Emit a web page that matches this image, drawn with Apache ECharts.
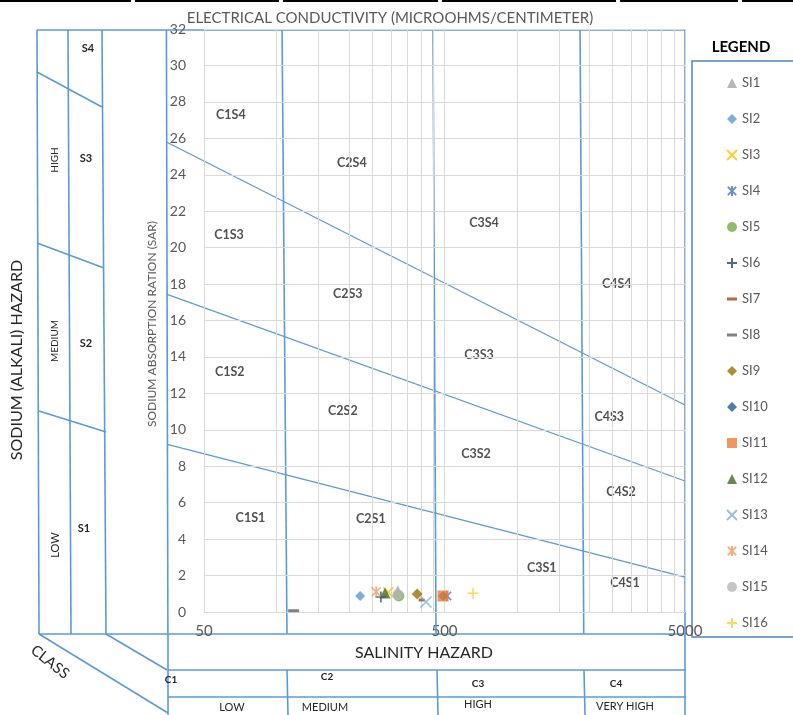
<!DOCTYPE html>
<html>
<head>
<meta charset="utf-8">
<script src="https://cdn.jsdelivr.net/npm/echarts@6/dist/echarts.min.js"></script>
<style>
html,body{margin:0;padding:0;background:#fff;}
#chart{width:793px;height:715px;}
</style>
</head>
<body>
<div id="chart"></div>
<script>
// ---- data ----
const seriesNames = ['SI1','SI2','SI3','SI4','SI5','SI6','SI7','SI8','SI9','SI10','SI11','SI12','SI13','SI14','SI15','SI16'];
const ecValues  = [320, 223, 292, 512, 323, 272, 402, 118, 385, 493, 493, 283, 419, 260, 320, 657];
const sarValues = [1.17, 0.88, 1.08, 0.88, 0.88, 0.82, 0.66, 0.07, 0.99, 0.88, 0.88, 1.04, 0.55, 1.11, 0.95, 1.03];
const seriesColors = ['#A5A5A5','#5B9BD5','#FFC000','#4472C4','#70AD47','#264478','#9E480E','#636363','#997300','#255E91','#ED7D31','#43682B','#7CAFDD','#F1975A','#B7B7B7','#FFCD33'];

const zoneNames = ['C1S4','C2S4','C3S4','C4S4','C1S3','C2S3','C3S3','C4S3','C1S2','C2S2','C3S2','C4S2','C1S1','C2S1','C3S1','C4S1'];
const zoneEC    = [64.7, 206, 730, 2600, 63.5, 198, 696, 2420, 64, 189, 676, 2710, 78, 247, 1268, 2815];
const zoneSAR   = [27.28, 24.63, 21.35, 18.0, 20.69, 17.45, 14.1, 10.72, 13.16, 11.05, 8.67, 6.57, 5.14, 5.09, 2.43, 1.61];

const xTickLabels = [50, 500, 5000];
const ecGridValues = [50,100,150,200,250,300,350,400,450,500,1000,1500,2000,2500,3000,3500,4000,4500,5000];
const sarGridValues = [0,2,4,6,8,10,12,14,16,18,20,22,24,26,28,30,32];
const ecAxisMin = 34.76, ecAxisMax = 5000, ecPlotMin = 50;
const yMin = 0, yMax = 32, yInterval = 2;

// class boundary lines (EC at top / bottom of frame) and SAR hazard lines
const classBoundTop    = [34.9, 105.6, 448, 1831, 5000];
const classBoundBottom = [35.4, 110.7, 461, 1897, 5000];
const frameSarTop = 31.94, frameSarBottom = -1.2;
const sarLineStartEC = [34.9, 34.9, 35.2];
const sarLineStart = [25.8, 17.45, 9.2];
const sarLineEnd   = [11.36, 7.19, 1.92];

// ---- styles ----
const BLUE = '#5B9BD5';
const FONT = 'Lato, "Open Sans", sans-serif';
const P_X = 'path://M0,0L10,10M10,0L0,10';
const P_AST = 'path://M0,0L10,10M10,0L0,10M5,-1L5,11';
const P_PLUS = 'path://M5,0L5,10M0,5L10,5';
const P_DASH = 'path://M0,0H10V3H0Z';
const seriesSymbols = ['triangle','diamond',P_X,P_AST,'circle',P_PLUS,'rect','rect','diamond','diamond','rect','triangle',P_X,P_AST,'circle',P_PLUS];
const legendIcons = {6:P_DASH, 7:P_DASH};
const strokeOnly = {2:1,3:1,5:1,12:1,13:1,15:1};
const symbolSizes = [11,10,10,10,11,11,[6,3],[11,3],11,10,11,11,11,11,11,11];

const chart = echarts.init(document.getElementById('chart'), null, {renderer:'canvas'});

const series = [];
// grid lines
series.push({
  type:'line', name:'_grid', data:[], silent:true, z:1,
  markLine:{ silent:true, symbol:'none', animation:false,
    label:{show:false},
    lineStyle:{color:'#D9D9D9', type:'solid', width:1},
    data: ecGridValues.map(v => [{coord:[v, yMin]},{coord:[v, yMax]}])
      .concat(sarGridValues.map(v => [{coord:[ecPlotMin, v]},{coord:[ecAxisMax, v]}]))
  }
});
// class boundaries
classBoundTop.forEach((t,i) => {
  series.push({type:'line', name:'_cb'+i, data:[[t, frameSarTop],[classBoundBottom[i], frameSarBottom]],
    symbol:'none', clip:false, silent:true, z:3, animation:false,
    lineStyle:{color:BLUE, width:1.6}});
});
// SAR hazard lines
sarLineStart.forEach((s,i) => {
  series.push({type:'line', name:'_sl'+i, data:[[sarLineStartEC[i], s],[ecAxisMax, sarLineEnd[i]]],
    symbol:'none', clip:false, silent:true, z:3, animation:false,
    lineStyle:{color:BLUE, width:1.3}});
});
// zone labels
series.push({
  type:'scatter', name:'_zones', silent:true, z:4, symbolSize:1,
  itemStyle:{color:'transparent'},
  data: zoneNames.map((n,i) => ({name:n, value:[zoneEC[i], zoneSAR[i]]})),
  label:{show:true, position:'inside', formatter: p => p.name,
    fontFamily:FONT, fontSize:12.5, fontWeight:'bold', color:'#262626'}
});
// sample series
seriesNames.forEach((n,i) => {
  const c = seriesColors[i];
  const so = strokeOnly[i];
  series.push({
    type:'scatter', name:n, z:10, animation:false,
    symbol: seriesSymbols[i], symbolSize: symbolSizes[i], symbolKeepAspect:true,
    itemStyle: so ? {color:c, borderColor:c, borderWidth:1.6} : {color:c},
    data: [[ecValues[i], sarValues[i]]]
  });
});

function L(x1,y1,x2,y2,w,c){return {type:'line', silent:true, shape:{x1,y1,x2,y2}, style:{stroke:c||BLUE, lineWidth:w||1.6}};}
function T(text,x,y,font,fill,rot){return {type:'text', silent:true, x, y, rotation:rot||0,
  style:{text, x:0, y:0, font, fill:fill||'#262626', textAlign:'center', textVerticalAlign:'middle'}};}

const graphics = [
  // top black border remnants
  L(0,1,131,1,2,'#000'), L(135,1,279,1,2,'#000'), L(283,1,438,1,2,'#000'), L(442,1,616,1,2,'#000'), L(620,1,738,1,2,'#000'), L(742,1,793,1,2,'#000'),
  // frame top & bottom
  L(37,30,686,30), L(39,634,686,634),
  // left panel verticals
  L(37,30,39,634), L(68,30,71,634), L(102,30,106,634),
  // left panel diagonals
  L(37,72,102,107), L(37,243,104,268), L(39,411,106,432),
  // class diagonals
  L(39,634,168,713), L(106,634,167,670),
  // left/right continuation
  L(168,634,168,715), L(685,634,685,715),
  // bottom table
  L(168,670,686,670), L(168,697,686,697),
  L(287,670,288,715), L(437,670,438,715), L(584,670,585,715),
  // legend box
  {type:'rect', silent:true, shape:{x:692,y:61,width:130,height:576}, style:{fill:'none', stroke:'#4F81BD', lineWidth:1.5}},
  // texts
  T('ELECTRICAL CONDUCTIVITY (MICROOHMS/CENTIMETER)', 390, 18, '15px '+FONT, '#595959'),
  T('SALINITY HAZARD', 424, 653, '16px '+FONT, '#262626'),
  T('SODIUM (ALKALI) HAZARD', 17, 360, '16px '+FONT, '#262626', Math.PI/2),
  T('SODIUM ABSORPTION RATION (SAR)', 152, 324, '12px '+FONT, '#595959', Math.PI/2),
  T('HIGH', 55, 160, '10px '+FONT, '#262626', Math.PI/2),
  T('MEDIUM', 55, 341, '10px '+FONT, '#262626', Math.PI/2),
  T('LOW', 55, 545, '11px '+FONT, '#262626', Math.PI/2),
  T('S4', 88, 48, 'bold 11px '+FONT), T('S3', 86, 158, 'bold 11px '+FONT),
  T('S2', 86, 343, 'bold 11px '+FONT), T('S1', 84, 528, 'bold 11px '+FONT),
  T('CLASS', 50, 662, '15px '+FONT, '#262626', -0.67),
  T('C1', 171, 680, 'bold 10px '+FONT), T('C2', 327, 677, 'bold 10px '+FONT),
  T('C3', 478, 684, 'bold 10px '+FONT), T('C4', 616, 684, 'bold 10px '+FONT),
  T('LOW', 232, 707, '11px '+FONT), T('MEDIUM', 325, 707, '11px '+FONT),
  T('HIGH', 478, 704, '11px '+FONT), T('VERY HIGH', 625, 706, '11px '+FONT),
  T('LEGEND', 741, 47, 'bold 15px '+FONT, '#000')
];

chart.setOption({
  animation:false,
  backgroundColor:'#fff',
  grid:{left:166, right:108, top:29, bottom:103, containLabel:false},
  xAxis:{type:'log', logBase:10, min:ecAxisMin, max:ecAxisMax,
    axisLine:{show:false}, axisTick:{show:false}, splitLine:{show:false}, minorSplitLine:{show:false},
    axisLabel:{customValues:xTickLabels, formatter: v => String(Math.round(v)), fontSize:15, color:'#595959', fontFamily:FONT, margin:12}
  },
  yAxis:{type:'value', min:yMin, max:yMax, interval:yInterval,
    axisLine:{show:false}, axisTick:{show:false},
    splitLine:{show:false},
    axisLabel:{inside:true, align:'right', fontSize:14, color:'#595959', fontFamily:FONT, margin:20}
  },
  legend:{data:seriesNames.map((n,i) => legendIcons[i] ? {name:n, icon:legendIcons[i]} : n),
    orient:'vertical', left:721, top:71, itemWidth:10, itemHeight:10, itemGap:22,
    textStyle:{color:'#595959', fontSize:13, fontFamily:FONT, lineHeight:14}, selectedMode:false},
  graphic: graphics,
  series: series
});
</script>
</body>
</html>
